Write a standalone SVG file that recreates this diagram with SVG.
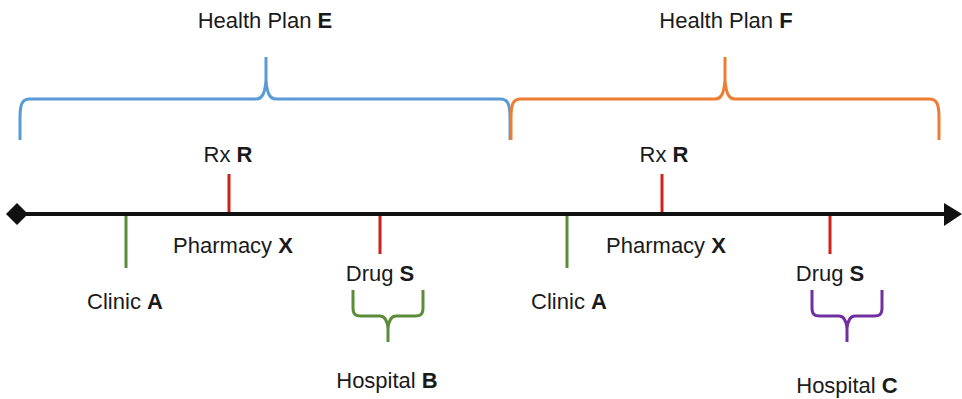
<svg xmlns="http://www.w3.org/2000/svg" width="962" height="399" viewBox="0 0 962 399">
<style>
text{font-family:"Liberation Sans",Arial,sans-serif;font-size:22px;fill:#1a1a1a;text-anchor:middle}
.b{font-weight:bold}
.br{fill:none;stroke-width:3;stroke-linejoin:round}
.tick{stroke-width:3}
.red{stroke:#D0201B}
.grn{stroke:#5B8C3A}
</style>
<rect width="962" height="399" fill="#fff"/>
<g id="connectors">
<line x1="17" y1="214" x2="950" y2="214" stroke="#111" stroke-width="4"/>
<polygon points="6,214 17,203 28,214 17,225" fill="#111"/>
<polygon points="944,203 962,214 944,226" fill="#111"/>
</g>
<g id="planE">
<path class="br" stroke="#5B9BD5" d="M20,140 L20,118 C20,104 22,99 30,99 L256,99 C263,99 265,92 266,80 L266,57 M266,80 C267,92 269,99 276,99 L500,99 C508,99 510,104 510,118 L510,140"/>
<text x="265" y="28">Health Plan <tspan class="b">E</tspan></text>
</g>
<g id="planF">
<path class="br" stroke="#ED7D31" d="M511,140 L511,118 C511,104 513,99 521,99 L715,99 C722,99 724,92 725,80 L725,57 M725,80 C726,92 728,99 735,99 L929,99 C937,99 939,104 939,118 L939,140"/>
<text x="726" y="28">Health Plan <tspan class="b">F</tspan></text>
</g>
<g id="rxR1">
<line class="tick red" x1="229" y1="174" x2="229" y2="212"/>
<text x="228" y="162">Rx <tspan class="b">R</tspan></text>
</g>
<g id="clinicA1">
<line class="tick grn" x1="126" y1="216" x2="126" y2="268"/>
<text x="125" y="309">Clinic <tspan class="b">A</tspan></text>
</g>
<g id="pharmacyX1">
<text x="233" y="253">Pharmacy <tspan class="b">X</tspan></text>
</g>
<g id="drugS1">
<line class="tick red" x1="380" y1="216" x2="380" y2="254"/>
<text x="380" y="281">Drug <tspan class="b">S</tspan></text>
</g>
<g id="hospitalB">
<path class="br grn" d="M353,290 L353,308 C353,314 355,316 361,316 L380,316 C385,316 387,320 388,328 L388,342 M388,328 C389,320 391,316 396,316 L415,316 C421,316 423,314 423,308 L423,290"/>
<text x="387" y="388">Hospital <tspan class="b">B</tspan></text>
</g>
<g id="rxR2">
<line class="tick red" x1="662" y1="174" x2="662" y2="212"/>
<text x="664" y="162">Rx <tspan class="b">R</tspan></text>
</g>
<g id="clinicA2">
<line class="tick grn" x1="567" y1="216" x2="567" y2="268"/>
<text x="569" y="309">Clinic <tspan class="b">A</tspan></text>
</g>
<g id="pharmacyX2">
<text x="666" y="253">Pharmacy <tspan class="b">X</tspan></text>
</g>
<g id="drugS2">
<line class="tick red" x1="830" y1="216" x2="830" y2="254"/>
<text x="830" y="281">Drug <tspan class="b">S</tspan></text>
</g>
<g id="hospitalC">
<path class="br" stroke="#7030A0" d="M812,290 L812,308 C812,314 814,316 820,316 L839,316 C844,316 846,320 847,328 L847,342 M847,328 C848,320 850,316 855,316 L874,316 C880,316 882,314 882,308 L882,290"/>
<text x="847" y="393">Hospital <tspan class="b">C</tspan></text>
</g>
</svg>
